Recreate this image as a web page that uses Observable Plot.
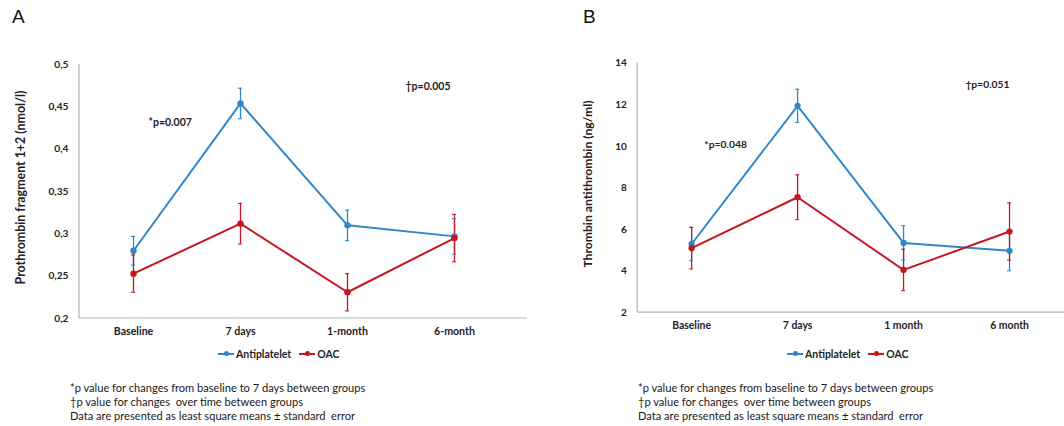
<!DOCTYPE html>
<html>
<head>
<meta charset="utf-8">
<script src="https://cdn.jsdelivr.net/npm/d3@7"></script>
<script src="https://cdn.jsdelivr.net/npm/@observablehq/plot@0.6"></script>
<style>
  html, body { margin: 0; padding: 0; background: #fff; width: 1064px; height: 426px; overflow: hidden; }
  body { position: relative; font-family: Lato, "Open Sans", sans-serif; color: #222; }
  .panel { position: absolute; top: 0; }
  .letter { position: absolute; font-family: "Liberation Sans", Arial, sans-serif; font-size: 19px; color: #111; }
  .legend { position: absolute; font-size: 10.5px; font-weight: bold; color: #222; white-space: nowrap; display: flex; align-items: center; }
  .legend .sw { display: inline-block; position: relative; width: 16px; height: 2px; margin-right: 2px; }
  .legend .sw i { position: absolute; left: 6px; top: -2px; width: 5px; height: 5px; border-radius: 50%; }
  .legend .item { display: flex; align-items: center; margin-right: 8px; }
  .notes { position: absolute; font-size: 11.1px; line-height: 14.2px; color: #1a1a1a; white-space: pre; }
  svg { position: absolute; left: 0; top: 0; overflow: visible; }
</style>
</head>
<body>
<div id="A" class="panel" style="left:0;width:540px;height:426px"></div>
<div id="B" class="panel" style="left:540px;width:524px;height:426px"></div>
<script>
// ---- data ----
const timepointsA = ["Baseline", "7 days", "1-month", "6-month"];
const timepointsB = ["Baseline", "7 days", "1 month", "6 month"];
const groups = ["Antiplatelet", "OAC"];
const colors = ["#2f86c9", "#c4161c"];

// Panel A: Prothrombin fragment 1+2 (nmol/l)
const f12Antiplatelet = [0.280, 0.454, 0.310, 0.297];
const f12AntiplateletSE = [0.017, 0.018, 0.018, 0.021];
const f12OAC = [0.253, 0.312, 0.231, 0.295];
const f12OACSE = [0.022, 0.024, 0.022, 0.028];
const yTicksA = [0.2, 0.25, 0.3, 0.35, 0.4, 0.45, 0.5];

// Panel B: Thrombin antithrombin (ng/ml)
const tatAntiplatelet = [5.3, 11.95, 5.35, 4.97];
const tatAntiplateletSE = [0.8, 0.8, 0.83, 0.96];
const tatOAC = [5.1, 7.55, 4.05, 5.9];
const tatOACSE = [1.0, 1.08, 1.0, 1.38];
const yTicksB = [2, 4, 6, 8, 10, 12, 14];

const notes = [
  "*p value for changes from baseline to 7 days between groups",
  "\u2020p value for changes  over time between groups",
  "Data are presented as least square means \u00b1 standard  error"
];

function rows(tps, a, aSE, o, oSE) {
  const out = [];
  tps.forEach((t, i) => out.push({t, g: groups[0], v: a[i], se: aSE[i]}));
  tps.forEach((t, i) => out.push({t, g: groups[1], v: o[i], se: oSE[i]}));
  return out;
}

function axisLines(index, scales, values, dims) {
  const g = d3.create("svg:g").attr("stroke", "#b3b3b3").attr("stroke-width", 1.2);
  const x0 = dims.marginLeft, x1 = dims.width - dims.marginRight;
  const y0 = dims.marginTop, y1 = dims.height - dims.marginBottom;
  g.append("line").attr("x1", x0).attr("x2", x0).attr("y1", y0).attr("y2", y1);
  g.append("line").attr("x1", x0).attr("x2", x1 + 20).attr("y1", y1).attr("y2", y1);
  return g.node();
}

function panel(cfg) {
  const data = rows(cfg.tps, cfg.a, cfg.aSE, cfg.o, cfg.oSE);
  const font = "Lato, 'Open Sans', sans-serif";
  const p = Plot.plot({
    width: cfg.width, height: 345,
    marginLeft: cfg.ml, marginRight: cfg.mr, marginTop: 64, marginBottom: 27,
    style: {fontFamily: font, fontSize: "10px", fontWeight: "bold", color: "#222", background: "transparent"},
    x: {type: "point", domain: cfg.tps, padding: 0.5, axis: null},
    y: {domain: cfg.ydomain, axis: null},
    color: {domain: groups, range: colors},
    marks: [
      axisLines,
      Plot.axisY(cfg.yticks, {tickSize: 0, tickPadding: 11, tickFormat: cfg.fmt, fontWeight: "bold", fontSize: 10.2, fill: "#222", label: null}),
      Plot.axisX({tickSize: 0, tickPadding: 9, fontWeight: "bold", fontSize: 10.6, fill: "#222", label: null}),
      Plot.text([cfg.ytitle], {frameAnchor: "left", textAnchor: "middle", dx: -cfg.titleOff, dy: -4, rotate: -90, fontSize: 12.4, fontWeight: "bold", fill: "#222"}),
      Plot.ruleX(data, {x: "t", y1: d => d.v - d.se, y2: d => d.v + d.se, stroke: "g", strokeWidth: 1.3}),
      Plot.ruleY(data, {x1: "t", x2: "t", y: d => d.v - d.se, stroke: "g", strokeWidth: 1.1, insetLeft: -2, insetRight: -2}),
      Plot.ruleY(data, {x1: "t", x2: "t", y: d => d.v + d.se, stroke: "g", strokeWidth: 1.1, insetLeft: -2, insetRight: -2}),
      Plot.line(data, {x: "t", y: "v", z: "g", stroke: "g", strokeWidth: 2}),
      Plot.dot(data, {x: "t", y: "v", fill: "g", r: 3.2}),
      Plot.text([cfg.p1], {frameAnchor: "top-left", dx: cfg.p1dx, dy: cfg.p1dy, textAnchor: "start", fontSize: 10.5, fontWeight: "bold", fill: "#222"}),
      Plot.text([cfg.p2], {frameAnchor: "top-left", dx: cfg.p2dx, dy: cfg.p2dy, textAnchor: "start", fontSize: 10.5, fontWeight: "bold", fill: "#222"})
    ]
  });
  const host = document.getElementById(cfg.id);
  host.appendChild(p);

  const letter = document.createElement("div");
  letter.className = "letter";
  letter.textContent = cfg.letter;
  letter.style.left = cfg.letterX + "px";
  letter.style.top = "6px";
  host.appendChild(letter);

  const lg = document.createElement("div");
  lg.className = "legend";
  lg.style.left = cfg.legendX + "px";
  lg.style.top = "348px";
  groups.forEach((g, i) => {
    const it = document.createElement("span");
    it.className = "item";
    const sw = document.createElement("span");
    sw.className = "sw"; sw.style.background = colors[i];
    const dot = document.createElement("i"); dot.style.background = colors[i];
    sw.appendChild(dot);
    it.appendChild(sw);
    it.appendChild(document.createTextNode(g));
    lg.appendChild(it);
  });
  host.appendChild(lg);

  const nt = document.createElement("div");
  nt.className = "notes";
  nt.style.left = cfg.notesX + "px";
  nt.style.top = "381px";
  nt.textContent = notes.join("\n");
  host.appendChild(nt);
}

const fmtA = d => d3.format(".2~f")(d).replace(".", ",");

panel({
  id: "A", letter: "A", letterX: 12, tps: timepointsA,
  a: f12Antiplatelet, aSE: f12AntiplateletSE, o: f12OAC, oSE: f12OACSE,
  ydomain: [0.2, 0.5], yticks: yTicksA, fmt: fmtA,
  ytitle: "Prothrombin fragment 1+2 (nmol/l)", titleOff: 58,
  width: 520, ml: 79, mr: 13,
  p1: "*p=0.007", p1dx: 69, p1dy: 54,
  p2: "\u2020p=0.005", p2dx: 326, p2dy: 18,
  legendX: 218, notesX: 70
});

panel({
  id: "B", letter: "B", letterX: 43, tps: timepointsB,
  a: tatAntiplatelet, aSE: tatAntiplateletSE, o: tatOAC, oSE: tatOACSE,
  ydomain: [2, 14], yticks: yTicksB, fmt: d => String(d),
  ytitle: "Thrombin antithrombin (ng/ml)", titleOff: 51,
  width: 534, ml: 99, mr: 1,
  p1: "*p=0.048", p1dx: 68, p1dy: 79,
  p2: "\u2020p=0.051", p2dx: 334, p2dy: 18,
  legendX: 247, notesX: 98
});
</script>
</body>
</html>
